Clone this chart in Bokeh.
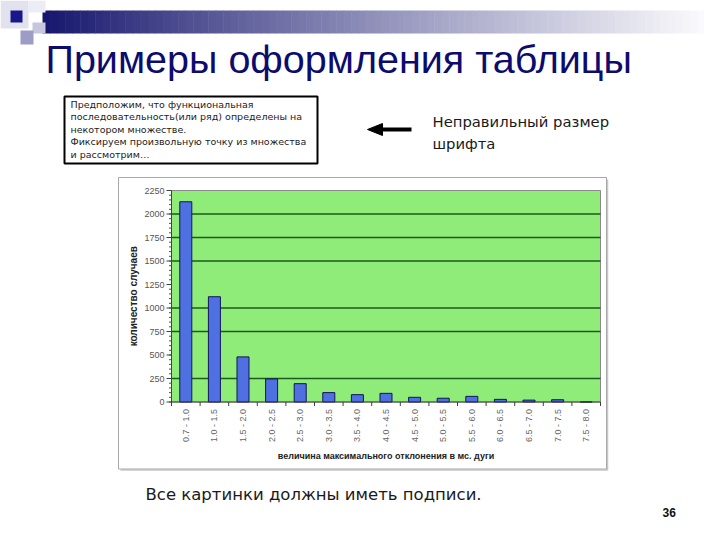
import numpy as np
from bokeh.plotting import figure
from bokeh.models import Range1d
from bokeh.core.properties import value
from bokeh.embed import file_html
from bokeh.resources import INLINE

# ---------------- data ----------------
categories = ["0.7 - 1.0", "1.0 - 1.5", "1.5 - 2.0", "2.0 - 2.5", "2.5 - 3.0",
              "3.0 - 3.5", "3.5 - 4.0", "4.0 - 4.5", "4.5 - 5.0", "5.0 - 5.5",
              "5.5 - 6.0", "6.0 - 6.5", "6.5 - 7.0", "7.0 - 7.5", "7.5 - 8.0"]
counts = [2130, 1120, 480, 245, 195, 100, 78, 92, 50, 40, 60, 28, 20, 24, 0]
y_ticks = [0, 250, 500, 750, 1000, 1250, 1500, 1750, 2000, 2250]
y_tick_labels = ["0", "250", "500", "750", "1000", "1250", "1500", "1750", "2000", "2250"]
grid_values = [250, 750, 1000, 1500, 1750, 2000]
y_axis_title = "количество случаев"
x_axis_title = "величина максимального отклонения в мс. дуги"

slide_title = "Примеры оформления таблицы"
box_lines = ["Предположим, что функциональная",
             "последовательность(или ряд) определены на",
             "некотором множестве.",
             "Фиксируем произвольную точку из множества",
             "и рассмотрим…"]
note_lines = ["Неправильный размер", "шрифта"]
caption = "Все картинки должны иметь подписи."
page_number = "36"

# ---------------- layout (picture pixel coordinates) ----------------
W, H = 704, 524
PL, PR, PT, PB = 171.0, 600.0, 190.0, 401.5
YMAX = 2250.0
n = len(categories)

p = figure(width=W, height=H, x_range=Range1d(0, W), y_range=Range1d(H, 0),
           min_border=0, toolbar_location=None, output_backend="svg",
           x_axis_type=None, y_axis_type=None)
p.grid.visible = False
p.outline_line_color = None
p.background_fill_color = "white"
p.border_fill_color = "white"

k = YMAX / (PB - PT)
p.extra_y_ranges = {"cnt": Range1d(start=(PB - H) * k, end=PB * k)}
cw = (PR - PL) / n
p.extra_x_ranges = {"cat": Range1d(start=(0 - PL) / cw, end=(W - PL) / cw)}

# ---------------- slide decoration ----------------
edges = np.linspace(42, 720, 91)
c0 = np.array([22, 22, 110])
c1 = np.array([255, 255, 255])
cols = []
for i in range(len(edges) - 1):
    t = (i / (len(edges) - 2)) ** 0.9
    c = (c0 + (c1 - c0) * t).astype(int)
    cols.append("#%02x%02x%02x" % tuple(c))
p.quad(left=edges[:-1], right=edges[1:] + 0.5, top=10, bottom=33, fill_color=cols, line_color=None)

p.quad(left=[0, 28, 32, 20, 10], right=[28, 45, 45, 33, 22],
       top=[0, 0, 22, 30, 10], bottom=[28, 12, 33, 44, 22],
       fill_color=["#e2e2ee", "#ececf5", "#c6c6de", "#9c9cc6", "#18188a"], line_color=None)

p.text(x=[45], y=[58], text=[slide_title], text_font=value("Liberation Sans"),
       text_font_size="39.5px", text_color="#0c0c6e", text_baseline="alphabetic")

# text box
p.quad(left=[64], right=[317], top=[96], bottom=[163], fill_color="white",
       line_color="black", line_width=2)
p.text(x=[70] * len(box_lines), y=[104 + 12.4 * i for i in range(len(box_lines))],
       text=box_lines, text_font=value("DejaVu Sans"), text_font_size="9.5px",
       text_color="#222222", text_baseline="alphabetic")

# arrow
p.segment(x0=[380], y0=[129], x1=[411], y1=[129], line_color="black", line_width=4)
p.patch(x=[367, 382, 382], y=[129, 123, 135], fill_color="black", line_color="black")

p.text(x=[432, 432], y=[121, 143], text=note_lines, text_font=value("DejaVu Sans"),
       text_font_size="14.8px", text_color="#1a1a1a", text_baseline="alphabetic")

p.text(x=[145], y=[494], text=[caption], text_font=value("DejaVu Sans"),
       text_font_size="16.5px", text_color="#1a1a1a", text_baseline="alphabetic")
p.text(x=[662], y=[512], text=[page_number], text_font=value("Liberation Sans"),
       text_font_size="12px", text_font_style="bold", text_color="#111111",
       text_baseline="alphabetic")

# ---------------- chart ----------------
p.segment(x0=[607, 120], y0=[179, 469.5], x1=[607, 607], y1=[470, 469.5],
          line_color="#c8c8c8", line_width=1.5)
p.quad(left=[118], right=[606], top=[177], bottom=[468.5], fill_color="white",
       line_color="#a8a8a8", line_width=1)

cat = dict(x_range_name="cat", y_range_name="cnt")
p.quad(left=[0], right=[n], bottom=[0], top=[YMAX], fill_color="#8fec78",
       line_color="#8a8a8a", line_width=1, **cat)
p.segment(x0=[0] * len(grid_values), x1=[n] * len(grid_values), y0=grid_values,
          y1=grid_values, line_color="#1d5a1d", line_width=1.4, **cat)

p.vbar(x=[i + 0.5 for i in range(n)], top=counts, bottom=0, width=0.42,
       fill_color="#4e70e0", line_color="#14145a", line_width=1, **cat)

# y axis
p.segment(x0=[0], x1=[0], y0=[0], y1=[YMAX], line_color="#404040", line_width=1, **cat)
minor = [v for v in range(0, int(YMAX) + 1, 50)]
p.segment(x0=[PL - 2.5] * len(minor), x1=[PL] * len(minor), y0=minor, y1=minor,
          line_color="#505050", line_width=1, y_range_name="cnt")
p.segment(x0=[PL - 5] * len(y_ticks), x1=[PL] * len(y_ticks), y0=y_ticks, y1=y_ticks,
          line_color="#404040", line_width=1, y_range_name="cnt")
p.text(x=[PL - 7] * len(y_ticks), y=y_ticks, text=y_tick_labels,
       text_font=value("Liberation Sans"), text_font_size="9px", text_color="#555555",
       text_align="right", text_baseline="middle", y_range_name="cnt")

# x axis
p.segment(x0=[0], x1=[n], y0=[PB], y1=[PB], line_color="#404040", line_width=1,
          x_range_name="cat")
bounds = list(range(n + 1))
p.segment(x0=bounds, x1=bounds, y0=[PB] * len(bounds), y1=[PB + 4] * len(bounds),
          line_color="#404040", line_width=1, x_range_name="cat")
p.text(x=[i + 0.5 for i in range(n)], y=[PB + 7] * n, text=categories, angle=np.pi / 2,
       text_font=value("Liberation Sans"), text_font_size="9px", text_color="#666666",
       text_align="right", text_baseline="middle", x_range_name="cat")

p.text(x=[133], y=[(PT + PB) / 2], text=[y_axis_title], angle=np.pi / 2,
       text_font=value("Liberation Sans"), text_font_size="10px", text_font_style="bold",
       text_color="#222222", text_align="center", text_baseline="middle")
p.text(x=[(PL + PR) / 2], y=[455], text=[x_axis_title],
       text_font=value("Liberation Sans"), text_font_size="9px", text_font_style="bold",
       text_color="#222222", text_align="center", text_baseline="middle")

open("out.html", "w").write(file_html(p, INLINE))
